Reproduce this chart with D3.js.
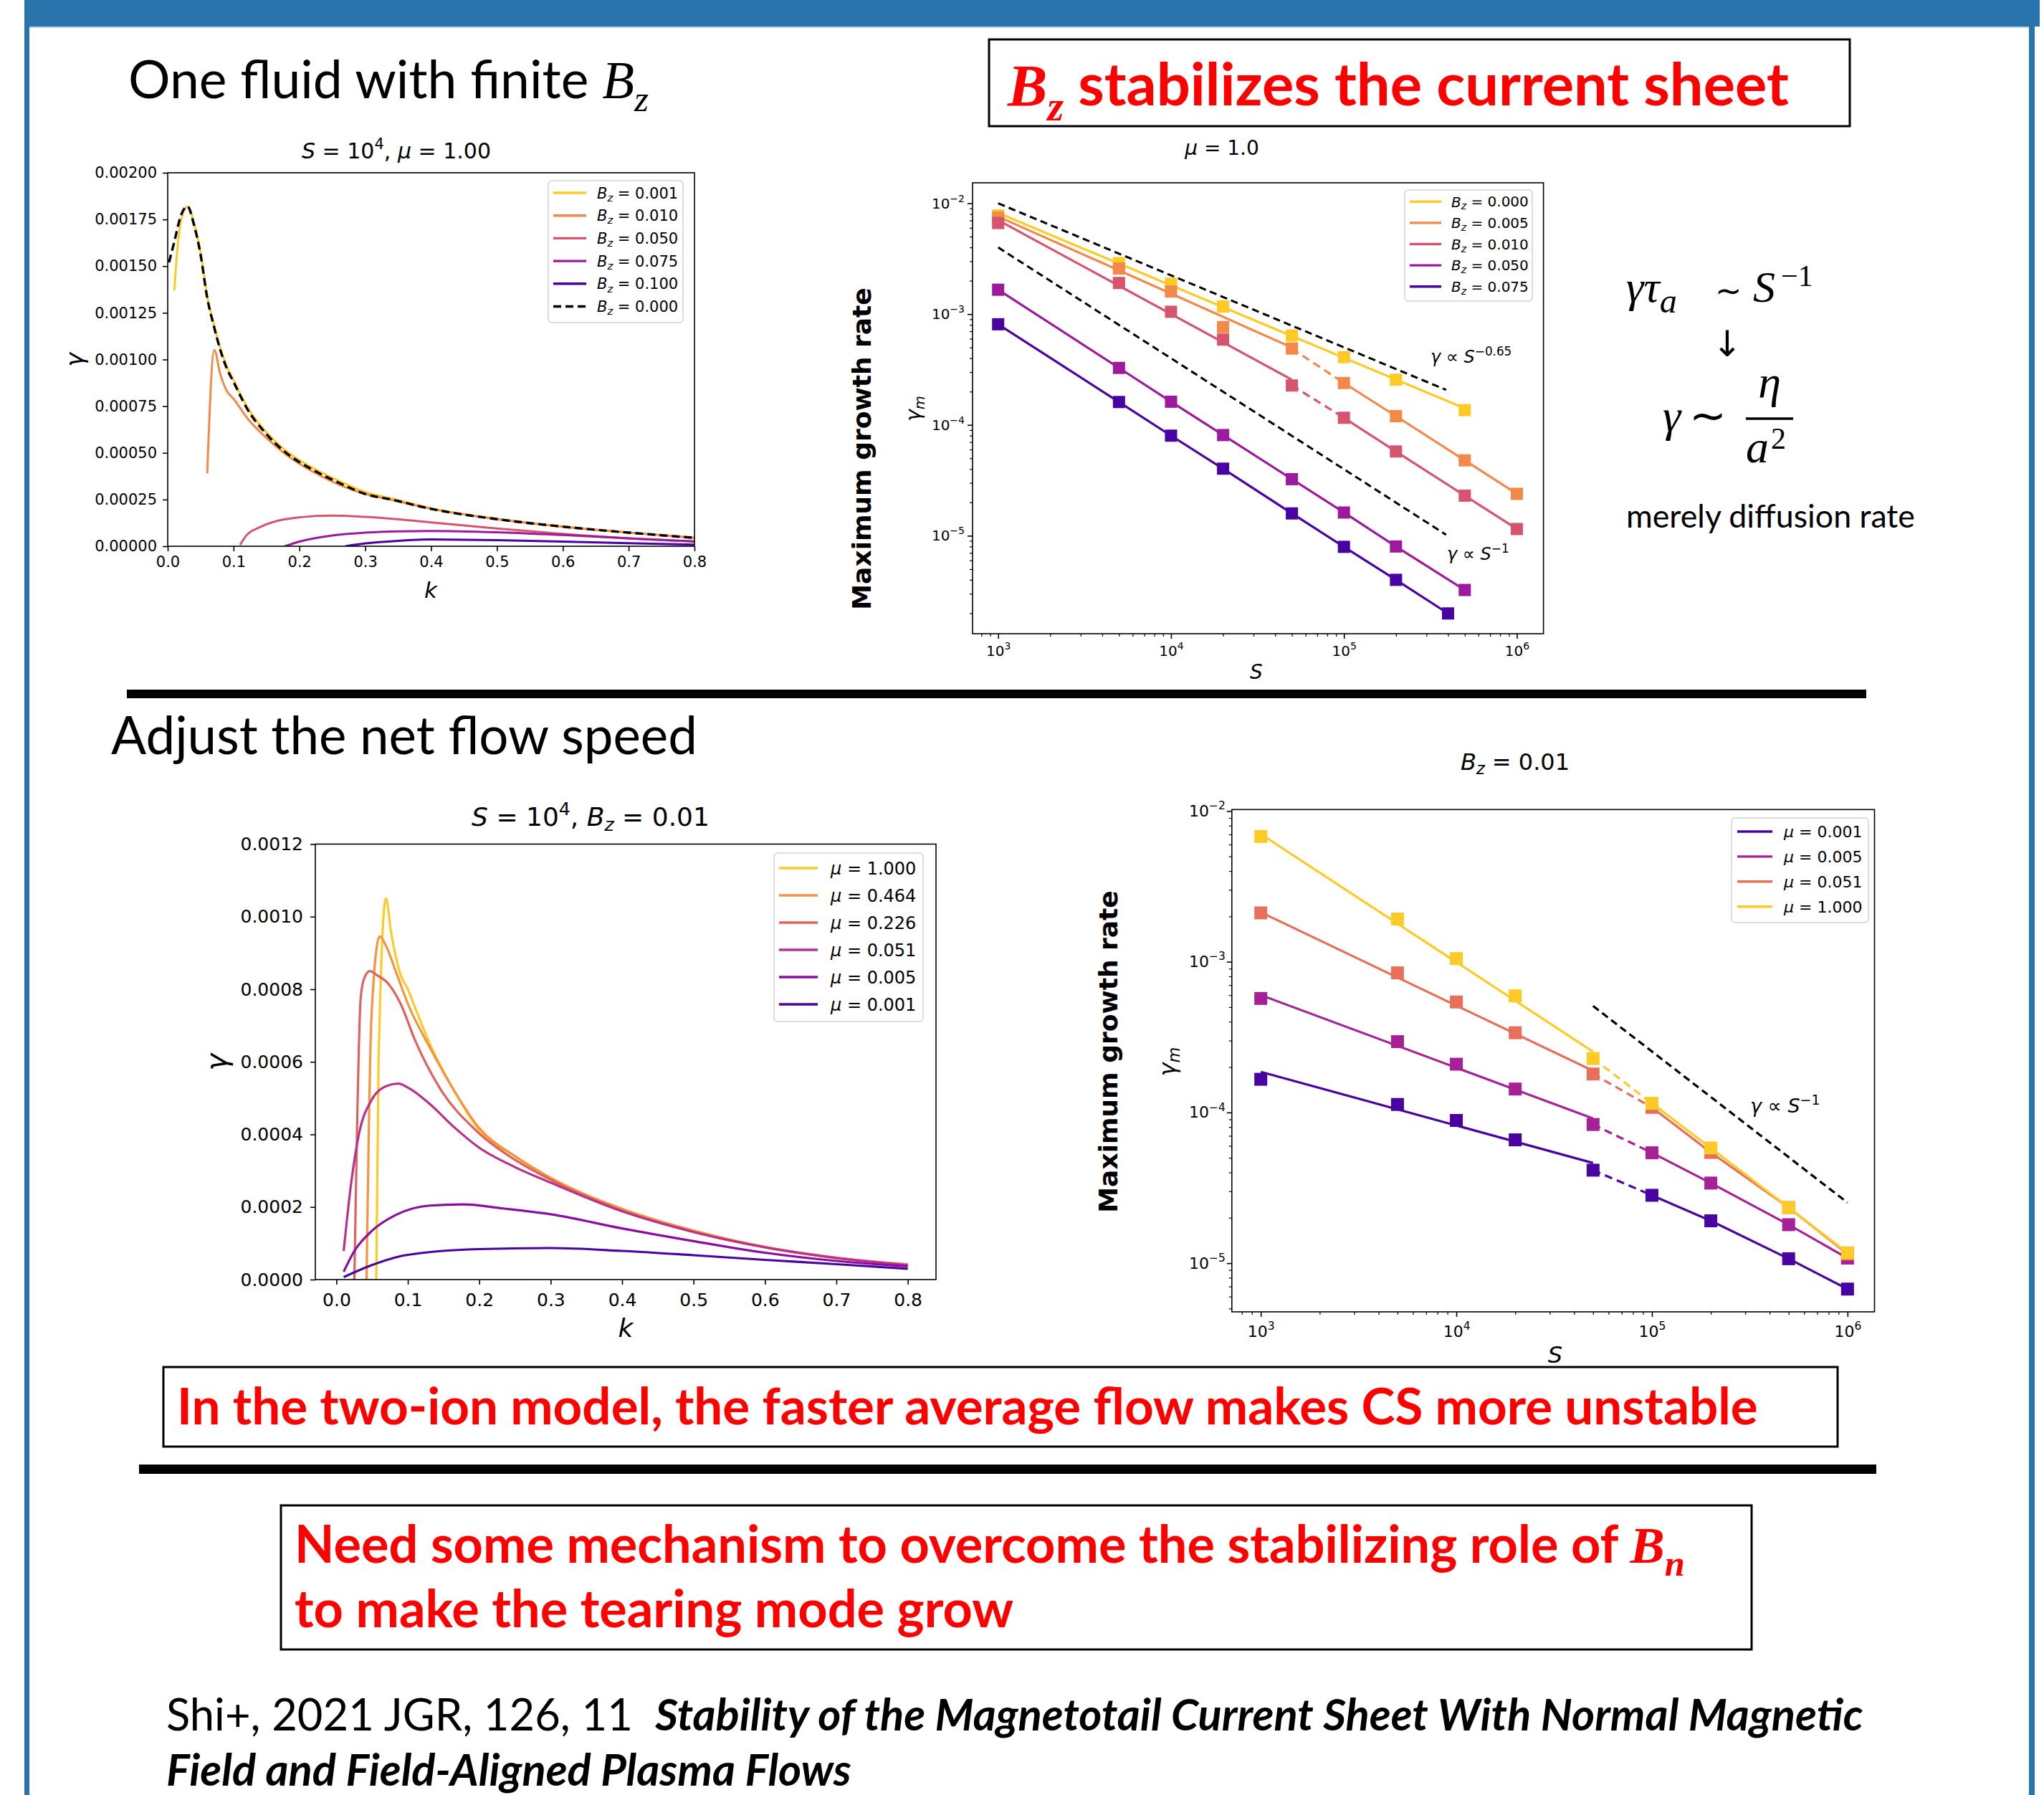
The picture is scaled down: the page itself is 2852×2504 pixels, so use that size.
<!DOCTYPE html>
<html>
<head>
<meta charset="utf-8">
<script src="https://cdn.jsdelivr.net/npm/d3@7"></script>
<style>
  html, body { margin: 0; padding: 0; background: #fff; }
  svg { display: block; }
</style>
</head>
<body>
<svg id="slide" width="2852" height="2504"></svg>
<script>
// ======================= DATA =======================

// --- Panel A: growth rate vs k, S = 1e4, mu = 1.00, several Bz ---
const K_TICKS_A = [0, 0.1, 0.2, 0.3, 0.4, 0.5, 0.6, 0.7, 0.8];
const GAMMA_TICKS_A = [0, 0.00025, 0.0005, 0.00075, 0.001, 0.00125, 0.0015, 0.00175, 0.002];
const BZ_LABELS_A = ['0.001', '0.010', '0.050', '0.075', '0.100', '0.000'];

const curveBz001 = [[0.01,0.00137],[0.015,0.00160],[0.02,0.00174],[0.03,0.00182],[0.04,0.00173],[0.05,0.00157],
  [0.06,0.00134],[0.07,0.00119],[0.08,0.00106],[0.09,0.00096],[0.10,0.00089],[0.12,0.00075],[0.15,0.00061],
  [0.18,0.00051],[0.22,0.00042],[0.26,0.00035],[0.30,0.00029],[0.34,0.000255],[0.40,0.000203],[0.50,0.000147],
  [0.60,0.000106],[0.70,0.000074],[0.80,0.000046]];
const curveBz010 = [[0.06,0.00039],[0.0707,0.00105],[0.08,0.00092],[0.09,0.00083],[0.10,0.00079],[0.11,0.00074],
  [0.12,0.00069],[0.15,0.00058],[0.18,0.00049],[0.22,0.00040],[0.26,0.00033],[0.30,0.00028],[0.34,0.000248],
  [0.40,0.000201],[0.50,0.000145],[0.60,0.000105],[0.70,0.000073],[0.80,0.000045]];
const curveBz050 = [[0.11,0.000008],[0.12,0.00006],[0.14,0.000102],[0.17,0.000139],[0.20,0.000155],[0.25,0.000164],
  [0.30,0.000157],[0.40,0.000128],[0.50,0.000095],[0.60,0.000066],[0.70,0.000042],[0.80,0.000025]];
const curveBz075 = [[0.178,0],[0.20,0.000025],[0.25,0.000058],[0.30,0.000073],[0.35,0.000080],[0.40,0.000082],
  [0.50,0.000075],[0.60,0.000060],[0.70,0.000042],[0.80,0.000026]];
const curveBz100 = [[0.27,0],[0.30,0.000015],[0.35,0.000029],[0.40,0.000036],[0.50,0.000033],[0.60,0.000025],
  [0.70,0.000016],[0.80,0.000009]];
const curveBz000 = [[0.002,0.00152],[0.01,0.00163],[0.02,0.00177],[0.03,0.00182],[0.04,0.00172],[0.05,0.00156],
  [0.06,0.00133],[0.07,0.00118],[0.08,0.00105],[0.09,0.00095],[0.10,0.00088],[0.12,0.00074],[0.15,0.00060],
  [0.18,0.00050],[0.22,0.00041],[0.26,0.00034],[0.30,0.00028],[0.34,0.00025],[0.40,0.00020],[0.50,0.000145],
  [0.60,0.000105],[0.70,0.000073],[0.80,0.000045]];

// --- Panel B: maximum growth rate vs S, mu = 1.0 ---
const S_TICKS = [1e3, 1e4, 1e5, 1e6];
const GM_TICKS = [1e-5, 1e-4, 1e-3, 1e-2];
const BZ_LABELS_B = ['0.000', '0.005', '0.010', '0.050', '0.075'];

const sBz000 = [1e3, 5e3, 1e4, 2e4, 5e4, 1e5, 2e5, 5e5];
const gmBz000 = [7.76e-3, 2.88e-3, 1.88e-3, 1.17e-3, 6.4e-4, 4.09e-4, 2.56e-4, 1.36e-4];
const fitBz000 = [[1e3, 8.18e-3], [5e5, 1.41e-4]];

const sBz005 = [1e3, 5e3, 1e4, 2e4, 5e4, 1e5, 2e5, 5e5, 1e6];
const gmBz005 = [7.43e-3, 2.58e-3, 1.60e-3, 7.64e-4, 4.89e-4, 2.39e-4, 1.20e-4, 4.79e-5, 2.39e-5];
const fitLowBz005 = [[1e3, 7.59e-3], [5e4, 5.0e-4]];

const sBz010 = [1e3, 5e3, 1e4, 2e4, 5e4, 1e5, 2e5, 5e5, 1e6];
const gmBz010 = [6.64e-3, 1.91e-3, 1.05e-3, 5.89e-4, 2.27e-4, 1.16e-4, 5.76e-5, 2.30e-5, 1.15e-5];
const fitLowBz010 = [[1e3, 7.05e-3], [5e4, 2.56e-4]];

const sBz050 = [1e3, 5e3, 1e4, 2e4, 5e4, 1e5, 2e5, 5e5];
const gmBz050 = [1.66e-3, 3.27e-4, 1.62e-4, 8.1e-5, 3.24e-5, 1.62e-5, 8.0e-6, 3.24e-6];

const sBz075 = [1e3, 5e3, 1e4, 2e4, 5e4, 1e5, 2e5, 4e5];
const gmBz075 = [8.1e-4, 1.61e-4, 8.0e-5, 4.03e-5, 1.59e-5, 7.94e-6, 4.0e-6, 1.99e-6];

const refSlope065 = [[1e3, 1.0e-2], [3.9e5, 2.07e-4]];
const refSlope1B = [[1e3, 4.0e-3], [3.9e5, 1.02e-5]];

// --- Panel C: growth rate vs k, S = 1e4, Bz = 0.01, several mu ---
const K_TICKS_C = [0, 0.1, 0.2, 0.3, 0.4, 0.5, 0.6, 0.7, 0.8];
const GAMMA_TICKS_C = [0, 0.0002, 0.0004, 0.0006, 0.0008, 0.0010, 0.0012];
const MU_LABELS_C = ['1.000', '0.464', '0.226', '0.051', '0.005', '0.001'];

const curveMu1000 = [[0.0558,0],[0.0590,0.00060],[0.0694,0.00105],[0.0763,0.00096],[0.0899,0.00084],[0.1001,0.00080],
  [0.110,0.00075],[0.1307,0.00065],[0.165,0.00052],[0.1988,0.000415],[0.25,0.00034],[0.30,0.00028],[0.40,0.000193],
  [0.50,0.000133],[0.60,0.0000889],[0.70,0.0000593],[0.80,0.0000415]];
const curveMu0464 = [[0.0422,0],[0.0490,0.00072],[0.0606,0.000946],[0.0694,0.00092],[0.083,0.00085],[0.100,0.00076],
  [0.1307,0.00064],[0.165,0.00052],[0.1988,0.00042],[0.25,0.00034],[0.30,0.00028],[0.40,0.000195],[0.50,0.000135],
  [0.60,0.00009],[0.70,0.00006],[0.80,0.000042]];
const curveMu0226 = [[0.0252,0],[0.034,0.000775],[0.0388,0.00083],[0.047,0.00085],[0.0558,0.00084],[0.0728,0.000815],
  [0.0899,0.00076],[0.110,0.00066],[0.144,0.00053],[0.1988,0.000405],[0.25,0.00033],[0.30,0.000275],[0.40,0.00019],
  [0.50,0.000132],[0.60,0.000089],[0.70,0.00006],[0.80,0.000041]];
const curveMu0051 = [[0.0102,0.000079],[0.0204,0.000262],[0.032,0.000405],[0.049,0.000494],[0.0694,0.000533],
  [0.0865,0.00054],[0.1035,0.000525],[0.1307,0.000484],[0.1648,0.00042],[0.1988,0.000365],[0.25,0.00031],
  [0.30,0.000267],[0.40,0.000188],[0.50,0.000131],[0.60,0.0000889],[0.70,0.0000593],[0.80,0.0000395]];
const curveMu0005 = [[0.0102,0.0000217],[0.0252,0.000079],[0.049,0.000133],[0.083,0.000178],[0.1307,0.000204],
  [0.178,0.000207],[0.233,0.000196],[0.30,0.00018],[0.40,0.000141],[0.50,0.000106],[0.60,0.0000741],
  [0.70,0.0000514],[0.80,0.0000365]];
const curveMu0001 = [[0.0102,0.0000069],[0.049,0.0000395],[0.0967,0.0000672],[0.1988,0.000084],[0.30,0.0000869],
  [0.40,0.000079],[0.50,0.0000672],[0.60,0.0000543],[0.70,0.0000425],[0.80,0.0000296]];

// --- Panel D: maximum growth rate vs S, Bz = 0.01 ---
const MU_LABELS_D = ['0.001', '0.005', '0.051', '1.000'];
const sMu = [1e3, 5e3, 1e4, 2e4, 5e4, 1e5, 2e5, 5e5, 1e6];
const gmMu0001 = [1.66e-4, 1.13e-4, 8.85e-5, 6.58e-5, 4.14e-5, 2.82e-5, 1.91e-5, 1.07e-5, 6.73e-6];
const fitLowMu0001 = [[1e3, 1.86e-4], [5e4, 4.62e-5]];
const gmMu0005 = [5.71e-4, 2.95e-4, 2.09e-4, 1.43e-4, 8.32e-5, 5.40e-5, 3.40e-5, 1.80e-5, 1.08e-5];
const fitLowMu0005 = [[1e3, 6.01e-4], [5e4, 9.12e-5]];
const gmMu0051 = [2.11e-3, 8.44e-4, 5.41e-4, 3.38e-4, 1.80e-4, 1.08e-4, 5.43e-5, 2.34e-5, 1.15e-5];
const fitLowMu0051 = [[1e3, 2.13e-3], [5e4, 1.89e-4]];
const gmMu1000 = [6.78e-3, 1.92e-3, 1.05e-3, 5.94e-4, 2.28e-4, 1.15e-4, 5.81e-5, 2.34e-5, 1.17e-5];
const fitLowMu1000 = [[1e3, 7.03e-3], [5e4, 2.53e-4]];
const refSlope1D = [[5e4, 5.09e-4], [1e6, 2.52e-5]];

// Colours (plasma colormap samples)
const COL_BZ = ['#fdca26', '#f48849', '#d5546e', '#9e1a9d', '#4903a0'];
const COL_MU_C = ['#fdca26', '#f8923f', '#e0625f', '#b9318a', '#8b0ca5', '#4903a0'];
const COL_MU_D = ['#4903a0', '#a62098', '#e8705a', '#fdca26'];

// ======================= HELPERS =======================
const FONT_PLOT = "'DejaVu Sans', sans-serif";
const FONT_SLIDE = "Lato, 'Open Sans', sans-serif";
const FONT_MATH = "'Liberation Serif', 'DejaVu Serif', serif";
const NB = '\u00A0';
const RED = '#ff0000';

const svg = d3.select('#slide');
svg.append('rect').attr('width', 2852).attr('height', 2504).attr('fill', '#fff');

// Append a run of mathtext-like pieces (italic, sub/superscripts) to a text element
function mt(sel, parts) {
  let off = 0;
  parts.forEach(p => {
    const o = (typeof p === 'string') ? { t: p } : p;
    const ts = sel.append('tspan').text(o.t);
    const sc = (o.sub || o.sup) ? (o.scale || 0.7) : (o.scale || 1);
    const want = o.sub ? (o.shift ?? 0.2) : (o.sup ? -(o.shift ?? 0.42) : 0);
    const d = want - off;
    if (Math.abs(d) > 1e-6) ts.attr('dy', (d / sc).toFixed(4) + 'em');
    off = want;
    if (sc !== 1) ts.attr('font-size', (sc * 100) + '%');
    if (o.it) ts.attr('font-style', 'italic');
    if (o.bold) ts.attr('font-weight', 'bold');
    if (o.family) ts.attr('font-family', o.family);
    if (o.x !== undefined) ts.attr('x', o.x);
  });
  return sel;
}

// Scale a text element's font size so its advance width equals `width`
function fitTo(sel, width) {
  const w = sel.node().getComputedTextLength();
  const fs = parseFloat(sel.attr('font-size'));
  if (w > 0) sel.attr('font-size', (fs * width / w).toFixed(2));
  return parseFloat(sel.attr('font-size'));
}

function text(x, y, size, opts = {}) {
  const t = svg.append('text').attr('x', x).attr('y', y).attr('font-size', size)
    .attr('font-family', opts.family || FONT_PLOT).attr('fill', opts.fill || '#000');
  if (opts.anchor) t.attr('text-anchor', opts.anchor);
  if (opts.weight) t.attr('font-weight', opts.weight);
  if (opts.style) t.attr('font-style', opts.style);
  if (opts.rotate) t.attr('x', 0).attr('y', 0).attr('transform', `translate(${x},${y}) rotate(${opts.rotate})`);
  return t;
}

let clipCount = 0;
function makeAxes(cfg) {
  const { x0, x1, y0, y1 } = cfg.box;
  const x = (cfg.log ? d3.scaleLog() : d3.scaleLinear()).domain(cfg.xDomain).range([x0, x1]);
  const y = (cfg.log ? d3.scaleLog() : d3.scaleLinear()).domain(cfg.yDomain).range([y1, y0]);
  const id = 'clip' + (++clipCount);
  svg.append('clipPath').attr('id', id).append('rect')
    .attr('x', x0).attr('y', y0).attr('width', x1 - x0).attr('height', y1 - y0);
  const g = svg.append('g');
  const plot = g.append('g').attr('clip-path', `url(#${id})`);
  return { cfg, x, y, g, plot };
}

function styleAxis(sel, font) {
  sel.attr('font-family', FONT_PLOT).attr('font-size', font);
  sel.select('.domain').remove();
  sel.selectAll('.tick line').attr('stroke', '#000').attr('stroke-width', 1.6);
  sel.selectAll('.tick text').attr('fill', '#000');
}

function logMinors(domain) {
  const [a, b] = domain, out = [];
  for (let e = Math.floor(Math.log10(a)); e <= Math.ceil(Math.log10(b)); e++)
    for (let m = 2; m <= 9; m++) { const v = m * Math.pow(10, e); if (v >= a && v <= b) out.push(v); }
  return out;
}

function powLabel(sel) {
  sel.each(function (d) {
    const t = d3.select(this);
    const e = Math.round(Math.log10(d));
    t.text(null);
    mt(t, ['10', { t: (e < 0 ? '\u2212' : '') + Math.abs(e), sup: true, shift: 0.45 }]);
  });
}

function drawAxes(ax, o) {
  const { x0, x1, y0, y1 } = ax.cfg.box;
  const gx = ax.g.append('g').attr('transform', `translate(0,${y1})`)
    .call(d3.axisBottom(ax.x).tickValues(o.xTicks).tickFormat(o.xFmt || (() => ''))
      .tickSize(o.tickLen).tickPadding(o.xPad));
  styleAxis(gx, o.font);
  const gy = ax.g.append('g').attr('transform', `translate(${x0},0)`)
    .call(d3.axisLeft(ax.y).tickValues(o.yTicks).tickFormat(o.yFmt || (() => ''))
      .tickSize(o.tickLen).tickPadding(o.yPad));
  styleAxis(gy, o.font);
  if (ax.cfg.log) {
    powLabel(gx.selectAll('.tick text'));
    powLabel(gy.selectAll('.tick text'));
    const mx = ax.g.append('g').attr('transform', `translate(0,${y1})`)
      .call(d3.axisBottom(ax.x).tickValues(logMinors(ax.x.domain())).tickFormat(() => '').tickSize(4));
    styleAxis(mx, o.font); mx.selectAll('.tick line').attr('stroke-width', 1.2);
    const my = ax.g.append('g').attr('transform', `translate(${x0},0)`)
      .call(d3.axisLeft(ax.y).tickValues(logMinors(ax.y.domain())).tickFormat(() => '').tickSize(4));
    styleAxis(my, o.font); my.selectAll('.tick line').attr('stroke-width', 1.2);
  }
  ax.g.append('rect').attr('x', x0).attr('y', y0).attr('width', x1 - x0).attr('height', y1 - y0)
    .attr('fill', 'none').attr('stroke', '#000').attr('stroke-width', 1.6);
}

function legend(cfg) {
  const g = svg.append('g');
  g.append('rect').attr('x', cfg.x0).attr('y', cfg.y0).attr('width', cfg.x1 - cfg.x0).attr('height', cfg.y1 - cfg.y0)
    .attr('rx', 5).attr('fill', '#fff').attr('fill-opacity', 0.85).attr('stroke', '#d4d4d4').attr('stroke-width', 1.6);
  cfg.rows.forEach((r, i) => {
    const yy = cfg.firstY + i * cfg.step;
    g.append('line').attr('x1', cfg.lineX0).attr('x2', cfg.lineX1).attr('y1', yy).attr('y2', yy)
      .attr('stroke', r.color).attr('stroke-width', 3.4).attr('stroke-dasharray', r.dash || null);
    const t = g.append('text').attr('x', cfg.textX).attr('y', yy + 0.36 * cfg.font)
      .attr('font-family', FONT_PLOT).attr('font-size', cfg.font).attr('fill', '#000');
    mt(t, r.label);
  });
}

const bzLabel = v => [{ t: 'B', it: true }, { t: 'z', it: true, sub: true }, NB + '=' + NB + v];
const muLabel = v => [{ t: '\u03BC', it: true }, NB + '=' + NB + v];

function path(ax, data, color, opts = {}) {
  const gen = d3.line().x(d => ax.x(d[0])).y(d => ax.y(d[1]));
  if (opts.smooth) gen.curve(d3.curveMonotoneX);
  ax.plot.append('path').attr('d', gen(data)).attr('fill', 'none').attr('stroke', color)
    .attr('stroke-width', opts.width || 3.2).attr('stroke-dasharray', opts.dash || null)
    .attr('stroke-linejoin', 'round');
}

function markers(ax, xs, ys, color, size) {
  ax.plot.append('g').selectAll('rect').data(xs.map((s, i) => [s, ys[i]])).join('rect')
    .attr('x', d => ax.x(d[0]) - size / 2).attr('y', d => ax.y(d[1]) - size / 2)
    .attr('width', size).attr('height', size).attr('fill', color);
}

const zip = (xs, ys) => xs.map((s, i) => [s, ys[i]]);

// ======================= SLIDE FRAME =======================
svg.append('rect').attr('x', 34).attr('y', 0).attr('width', 2812).attr('height', 37).attr('fill', '#2a74ae');
svg.append('rect').attr('x', 41).attr('y', 37).attr('width', 2790).attr('height', 2).attr('fill', '#b9d3ea');
svg.append('rect').attr('x', 34).attr('y', 0).attr('width', 7).attr('height', 2504).attr('fill', '#2a74ae');
svg.append('rect').attr('x', 2831).attr('y', 0).attr('width', 8).attr('height', 2504).attr('fill', '#2a74ae');

// Section headings
const h1 = text(179, 137, 64, { family: FONT_SLIDE });
mt(h1, ['One fluid with finite' + NB, { t: 'B', it: true, family: FONT_MATH }, { t: 'z', it: true, sub: true, family: FONT_MATH, shift: 0.25 }]);
fitTo(h1, 726);

const h2 = text(155, 1052, 64, { family: FONT_SLIDE });
h2.text('Adjust the net flow speed');
fitTo(h2, 818);

// Boxed red statement (top)
svg.append('rect').attr('x', 1380).attr('y', 55).attr('width', 1201).attr('height', 121)
  .attr('fill', 'none').attr('stroke', '#000').attr('stroke-width', 3);
const r1 = text(1406, 147, 75, { family: FONT_SLIDE, fill: RED, weight: 'bold' });
mt(r1, [{ t: 'B', it: true, family: FONT_MATH }, { t: 'z', it: true, sub: true, family: FONT_MATH, shift: 0.25 }, NB + 'stabilizes the current sheet']);
fitTo(r1, 1090);

// Scaling relations on the right
const f1 = text(2269, 421, 62, { family: FONT_MATH });
mt(f1, [{ t: '\u03B3\u03C4', it: true },
  { t: 'a', it: true, sub: true, scale: 0.78, shift: 0.24 },
  { t: '\u223C', family: FONT_PLOT, scale: 0.72, x: 2393 }, { t: 'S', it: true, x: 2446 },
  { t: '\u22121', sup: true, scale: 0.68, shift: 0.36, x: 2485 }]);
text(2410, 497, 50, { anchor: 'middle' }).text('\u2193');
text(2320, 601, 64, { family: FONT_MATH, style: 'italic' }).text('\u03B3');
text(2357, 601, 62, { family: FONT_PLOT }).text('\u223C');
text(2469, 554, 64, { family: FONT_MATH, style: 'italic', anchor: 'middle' }).text('\u03B7');
svg.append('line').attr('x1', 2436).attr('x2', 2502).attr('y1', 584).attr('y2', 584).attr('stroke', '#000').attr('stroke-width', 3.5);
text(2436, 645, 64, { family: FONT_MATH, style: 'italic' }).text('a');
text(2471, 626, 42, { family: FONT_MATH }).text('2');
const md = text(2269, 736, 44, { family: FONT_SLIDE });
md.text('merely diffusion rate');
fitTo(md, 403);

// Separators
svg.append('rect').attr('x', 177).attr('y', 962).attr('width', 2427).attr('height', 12).attr('fill', '#000');
svg.append('rect').attr('x', 194).attr('y', 2043).attr('width', 2424).attr('height', 13).attr('fill', '#000');

// Boxed red statement (middle)
svg.append('rect').attr('x', 228).attr('y', 1907).attr('width', 2336).attr('height', 111)
  .attr('fill', 'none').attr('stroke', '#000').attr('stroke-width', 3);
const r2 = text(247, 1987, 70, { family: FONT_SLIDE, fill: RED, weight: 'bold' });
r2.text('In the two-ion model, the faster average flow makes CS more unstable');
fitTo(r2, 2206);

// Boxed red statement (bottom)
svg.append('rect').attr('x', 392).attr('y', 2100).attr('width', 2052).attr('height', 201)
  .attr('fill', 'none').attr('stroke', '#000').attr('stroke-width', 3);
const r3 = text(411, 2180, 70, { family: FONT_SLIDE, fill: RED, weight: 'bold' });
mt(r3, ['Need some mechanism to overcome the stabilizing role of' + NB,
  { t: 'B', it: true, family: FONT_MATH }, { t: 'n', it: true, sub: true, family: FONT_MATH, shift: 0.25 }]);
const fs3 = fitTo(r3, 1940);
text(411, 2270, fs3, { family: FONT_SLIDE, fill: RED, weight: 'bold' }).text('to make the tearing mode grow');

// Reference
const ref1 = text(232, 2414, 55, { family: FONT_SLIDE });
mt(ref1, ['Shi+, 2021 JGR, 126, 11' + NB + NB,
  { t: 'Stability of the Magnetotail Current Sheet With Normal Magnetic', it: true, bold: true }]);
const fsr = fitTo(ref1, 2368);
text(232, 2491, fsr, { family: FONT_SLIDE, weight: 'bold', style: 'italic' }).text('Field and Field-Aligned Plasma Flows');

// ======================= PANEL A =======================
const axA = makeAxes({ box: { x0: 234, x1: 969, y0: 241, y1: 762 }, xDomain: [0, 0.8], yDomain: [0, 0.002] });
[curveBz001, curveBz010, curveBz050, curveBz075, curveBz100].forEach((c, i) => path(axA, c, COL_BZ[i], { smooth: true, width: 3 }));
path(axA, curveBz000, '#000', { smooth: true, width: 3.4, dash: '11,6' });
drawAxes(axA, { xTicks: K_TICKS_A, yTicks: GAMMA_TICKS_A, xFmt: d3.format('.1f'), yFmt: d3.format('.5f'),
  font: 21, tickLen: 7, xPad: 7, yPad: 8 });
legend({ x0: 765, x1: 953, y0: 252, y1: 450, firstY: 269, step: 31.7, lineX0: 772, lineX1: 818, textX: 833, font: 21,
  rows: BZ_LABELS_A.map((v, i) => ({ color: i < 5 ? COL_BZ[i] : '#000', dash: i < 5 ? null : '11,6', label: bzLabel(v) })) });
mt(text(553, 221, 30, { anchor: 'middle' }), [{ t: 'S', it: true }, NB + '=' + NB + '10', { t: '4', sup: true }, ',' + NB, { t: '\u03BC', it: true }, NB + '=' + NB + '1.00']);
text(601, 834, 31, { anchor: 'middle', style: 'italic' }).text('k');
text(116, 502, 33, { anchor: 'middle', style: 'italic', rotate: -90 }).text('\u03B3');

// ======================= PANEL B =======================
const axB = makeAxes({ box: { x0: 1357, x1: 2153.6, y0: 255, y1: 884 }, log: true,
  xDomain: [Math.pow(10, 2.852), Math.pow(10, 6.154)], yDomain: [Math.pow(10, -5.884), Math.pow(10, -1.815)] });
path(axB, refSlope065, '#000', { dash: '10,6', width: 3 });
path(axB, refSlope1B, '#000', { dash: '10,6', width: 3 });
// Bz = 0.000
path(axB, fitBz000, COL_BZ[0]);
markers(axB, sBz000, gmBz000, COL_BZ[0], 17);
// Bz = 0.005
path(axB, fitLowBz005, COL_BZ[1]);
path(axB, zip(sBz005, gmBz005).slice(4, 6), COL_BZ[1], { dash: '11,7' });
path(axB, zip(sBz005, gmBz005).slice(5), COL_BZ[1]);
markers(axB, sBz005, gmBz005, COL_BZ[1], 17);
// Bz = 0.010
path(axB, fitLowBz010, COL_BZ[2]);
path(axB, zip(sBz010, gmBz010).slice(4, 6), COL_BZ[2], { dash: '11,7' });
path(axB, zip(sBz010, gmBz010).slice(5), COL_BZ[2]);
markers(axB, sBz010, gmBz010, COL_BZ[2], 17);
// Bz = 0.050, 0.075
path(axB, zip(sBz050, gmBz050), COL_BZ[3]);
markers(axB, sBz050, gmBz050, COL_BZ[3], 17);
path(axB, zip(sBz075, gmBz075), COL_BZ[4]);
markers(axB, sBz075, gmBz075, COL_BZ[4], 17);
drawAxes(axB, { xTicks: S_TICKS, yTicks: GM_TICKS, font: 20, tickLen: 7, xPad: 10, yPad: 4 });
legend({ x0: 1960, x1: 2138, y0: 265, y1: 420, firstY: 281.3, step: 29.6, lineX0: 1967, lineX1: 2011, textX: 2025, font: 20,
  rows: BZ_LABELS_B.map((v, i) => ({ color: COL_BZ[i], label: bzLabel(v) })) });
mt(text(1996, 506, 24), [{ t: '\u03B3', it: true }, NB + '\u221D' + NB, { t: 'S', it: true }, { t: '\u22120.65', sup: true }]);
mt(text(2019, 781, 24), [{ t: '\u03B3', it: true }, NB + '\u221D' + NB, { t: 'S', it: true }, { t: '\u22121', sup: true }]);
mt(text(1705, 216, 28, { anchor: 'middle' }), [{ t: '\u03BC', it: true }, NB + '=' + NB + '1.0']);
text(1753, 947, 28, { anchor: 'middle', style: 'italic' }).text('S');
mt(text(1284, 570, 28, { anchor: 'middle', rotate: -90 }), [{ t: '\u03B3', it: true }, { t: 'm', it: true, sub: true }]);
text(1215, 626, 36, { anchor: 'middle', weight: 'bold', rotate: -90 }).text('Maximum growth rate');

// ======================= PANEL C =======================
const axC = makeAxes({ box: { x0: 440, x1: 1306, y0: 1177.5, y1: 1785 }, xDomain: [-0.0295, 0.8395], yDomain: [0, 0.0012] });
[curveMu1000, curveMu0464, curveMu0226, curveMu0051, curveMu0005, curveMu0001]
  .forEach((c, i) => path(axC, c, COL_MU_C[i], { smooth: true, width: 3.2 }));
drawAxes(axC, { xTicks: K_TICKS_C, yTicks: GAMMA_TICKS_C, xFmt: d3.format('.1f'), yFmt: d3.format('.4f'),
  font: 25, tickLen: 7, xPad: 12, yPad: 10 });
legend({ x0: 1080, x1: 1288, y0: 1190, y1: 1425, firstY: 1211, step: 38, lineX0: 1087, lineX1: 1141, textX: 1159, font: 24,
  rows: MU_LABELS_C.map((v, i) => ({ color: COL_MU_C[i], label: muLabel(v) })) });
mt(text(824, 1152, 36, { anchor: 'middle' }), [{ t: 'S', it: true }, NB + '=' + NB + '10', { t: '4', sup: true }, ',' + NB,
  { t: 'B', it: true }, { t: 'z', it: true, sub: true }, NB + '=' + NB + '0.01']);
text(873, 1865, 36, { anchor: 'middle', style: 'italic' }).text('k');
text(316, 1482, 40, { anchor: 'middle', style: 'italic', rotate: -90 }).text('\u03B3');

// ======================= PANEL D =======================
const axD = makeAxes({ box: { x0: 1718.8, x1: 2615.5, y0: 1129.3, y1: 1830 }, log: true,
  xDomain: [Math.pow(10, 2.852), Math.pow(10, 6.138)], yDomain: [Math.pow(10, -5.323), Math.pow(10, -1.99)] });
path(axD, refSlope1D, '#000', { dash: '10,6', width: 3.2 });
[[gmMu0001, fitLowMu0001], [gmMu0005, fitLowMu0005], [gmMu0051, fitLowMu0051], [gmMu1000, fitLowMu1000]]
  .forEach(([gm, fit], i) => {
    const c = COL_MU_D[i];
    path(axD, fit, c);
    path(axD, zip(sMu, gm).slice(4, 6), c, { dash: '11,7' });
    path(axD, zip(sMu, gm).slice(5), c);
    markers(axD, sMu, gm, c, 18);
  });
drawAxes(axD, { xTicks: S_TICKS, yTicks: GM_TICKS, font: 22, tickLen: 7, xPad: 12, yPad: 2 });
legend({ x0: 2416, x1: 2607, y0: 1141, y1: 1287, firstY: 1160, step: 34.9, lineX0: 2424, lineX1: 2473, textX: 2489, font: 22,
  rows: MU_LABELS_D.map((v, i) => ({ color: COL_MU_D[i], label: muLabel(v) })) });
mt(text(2442, 1552, 27), [{ t: '\u03B3', it: true }, NB + '\u221D' + NB, { t: 'S', it: true }, { t: '\u22121', sup: true }]);
mt(text(2114, 1074, 32, { anchor: 'middle' }), [{ t: 'B', it: true }, { t: 'z', it: true, sub: true }, NB + '=' + NB + '0.01']);
text(2170, 1901, 32, { anchor: 'middle', style: 'italic' }).text('S');
mt(text(1640, 1481, 32, { anchor: 'middle', rotate: -90 }), [{ t: '\u03B3', it: true }, { t: 'm', it: true, sub: true }]);
text(1559, 1467, 36, { anchor: 'middle', weight: 'bold', rotate: -90 }).text('Maximum growth rate');
</script>
</body>
</html>
